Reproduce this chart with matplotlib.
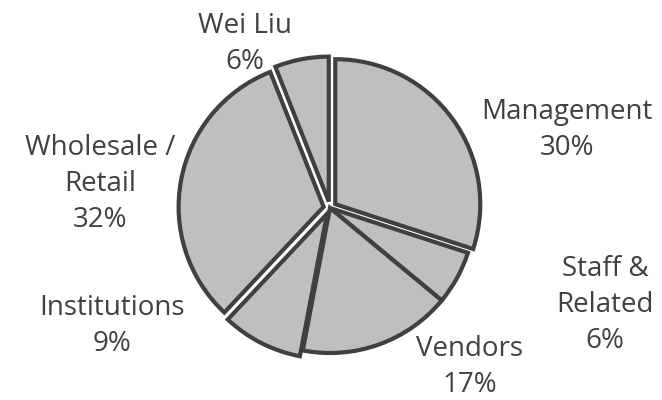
import matplotlib
matplotlib.use("Agg")
import matplotlib.pyplot as plt

categories = ["Management", "Staff &\nRelated", "Vendors", "Institutions", "Wholesale /\nRetail", "Wei Liu"]
values = [30, 6, 17, 9, 32, 6]

# layout (pixel coords, origin bottom-left)
explode_px = [6.5, 0, 0, 6.5, 6.5, 6.5]
label_pos = [(567, 270), (605, 95), (470, 33), (112, 74), (100, 216), (245, 356)]

W, H = 662, 400
fig = plt.figure(figsize=(W / 100, H / 100), dpi=100)
ax = fig.add_axes([0, 0, 1, 1])
ax.set_xlim(0, W)
ax.set_ylim(0, H)

edge = "#404040"
for cat, v, (x, y) in zip(categories, values, label_pos):
    ax.text(x, y, f"{cat}\n{v}%", ha="center", va="center", fontsize=20,
            family="Open Sans", color=edge, linespacing=1.4, zorder=0)

ax.pie(values, startangle=90, counterclock=False, center=(330, 192), radius=145,
       explode=explode_px, colors=["#bfbfbf"] * len(values), frame=True,
       wedgeprops=dict(edgecolor=edge, linewidth=3.0, zorder=2))
ax.set_xlim(0, W)
ax.set_ylim(0, H)
ax.set_aspect("equal")
ax.axis("off")

fig.savefig("out.png", dpi=100)
